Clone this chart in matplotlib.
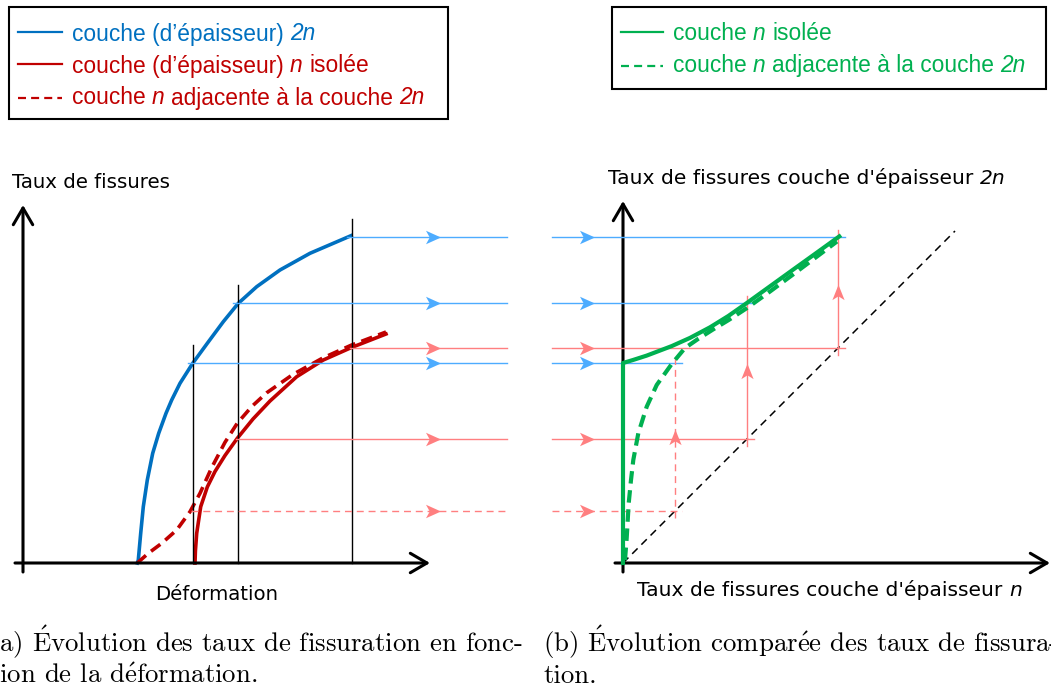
import matplotlib.pyplot as plt
from matplotlib.patches import Rectangle
from matplotlib.path import Path

plt.rcParams['mathtext.fontset'] = 'cm'

# --- schematic values (arbitrary units) ---
# (a) crack density against strain
eps_2n = [1.143, 1.153, 1.177, 1.203, 1.243, 1.297, 1.357, 1.430, 1.487, 1.570,
          1.697, 1.843, 2.003, 2.153, 2.337, 2.570, 2.870, 3.280]
rho_2n = [0.000, 0.030, 0.297, 0.563, 0.830, 1.097, 1.297, 1.497, 1.630, 1.797,
          1.997, 2.197, 2.413, 2.597, 2.763, 2.930, 3.097, 3.273]
eps_n = [1.720, 1.724, 1.737, 1.777, 1.843, 1.920, 2.020, 2.143, 2.300, 2.470,
         2.737, 3.003, 3.280, 3.630]
rho_n = [0.000, 0.120, 0.297, 0.563, 0.760, 0.915, 1.075, 1.247, 1.440, 1.620,
         1.863, 2.030, 2.153, 2.290]
eps_adj = [1.143, 1.253, 1.387, 1.537, 1.670, 1.770, 1.887, 2.020, 2.143, 2.290,
           2.437, 2.700, 3.000, 3.280, 3.630]
rho_adj = [0.000, 0.097, 0.197, 0.330, 0.513, 0.697, 0.954, 1.207, 1.398, 1.567,
           1.702, 1.886, 2.051, 2.177, 2.310]

# strain levels used for the construction and the densities read there
eps_levels = [1.70, 2.15, 3.29]
rho_2n_levels = [2.00, 2.60, 3.26]
rho_n_levels = [0.52, 1.24, 2.15]      # first one read on the adjacent curve
rho_n_dashed = [True, False, False]

# (b) crack density of the 2n layer against the n layer
n_iso = [0.000, 0.000, 0.100, 0.237, 0.487, 0.670, 0.870, 1.053, 1.230, 1.470,
         1.703, 1.937, 2.163]
r2n_iso = [0.000, 2.000, 2.030, 2.074, 2.169, 2.251, 2.357, 2.470, 2.594, 2.767,
           2.935, 3.103, 3.266]
n_adj = [0.020, 0.037, 0.057, 0.080, 0.103, 0.153, 0.237, 0.337, 0.487, 0.620,
         0.750, 0.900, 1.060, 1.240, 1.470, 1.700, 1.920, 2.140]
r2n_adj = [0.030, 0.250, 0.597, 0.830, 1.030, 1.297, 1.563, 1.780, 1.990, 2.150,
           2.240, 2.335, 2.432, 2.550, 2.715, 2.885, 3.050, 3.215]
diag = [0.0, 3.32]

BLUE = '#0070C0'
RED = '#C00000'
GREEN = '#00B050'
BLUE_LT = '#4DACFF'
RED_LT = '#FF7F80'

W, H = 1051, 692
fig = plt.figure(figsize=(W / 100, H / 100), dpi=100)

# 1 unit = 100 px, both panels share the same vertical scale
ax_a = fig.add_axes([0, 0, 540 / W, 1])
ax_a.set_xlim(-0.23, 5.17)
ax_b = fig.add_axes([540 / W, 0, 511 / W, 1])
ax_b.set_xlim(-0.83, 4.28)
for ax in (ax_a, ax_b):
    ax.set_ylim(-1.29, 5.63)
    ax.axis('off')
ov = fig.add_axes([0, 0, 1, 1])
ov.set_xlim(0, W)
ov.set_ylim(H, 0)
ov.axis('off')

# arrow head with a notched back, used along the guide lines
head_right = Path([(1, 0), (-1, 0.9), (-0.5, 0), (-1, -0.9), (1, 0)],
                  [Path.MOVETO, Path.LINETO, Path.LINETO, Path.LINETO, Path.CLOSEPOLY])
head_up = Path([(0, 1), (0.8, -1), (0, -0.5), (-0.8, -1), (0, 1)],
               [Path.MOVETO, Path.LINETO, Path.LINETO, Path.LINETO, Path.CLOSEPOLY])


def axis_arrow(ax, start, end):
    ax.annotate('', xy=end, xytext=start,
                arrowprops=dict(arrowstyle='->,head_length=12,head_width=7',
                                mutation_scale=1, lw=2.2, color='black',
                                shrinkA=0, shrinkB=0))


def guide(ax, x0, x1, y, color, dashed, head_x):
    ls = (0, (5, 3.5)) if dashed else '-'
    ax.plot([x0, x1], [y, y], color=color, lw=1.0, ls=ls, zorder=3)
    ax.plot([head_x], [y], marker=head_right, ms=10.8, color=color,
            mec='none', zorder=3)


# ---------- panel (a) ----------
axis_arrow(ax_a, (0, -0.09), (0, 3.58))
axis_arrow(ax_a, (-0.08, 0), (4.07, 0))

ax_a.plot(eps_2n, rho_2n, color=BLUE, lw=2.6, zorder=2)
ax_a.plot(eps_n, rho_n, color=RED, lw=2.6, zorder=2)
ax_a.plot(eps_adj, rho_adj, color=RED, lw=2.6, ls=(0, (3.2, 1.8)), zorder=2)

for e, r in zip(eps_levels, rho_2n_levels):
    ax_a.plot([e, e], [0, r + 0.18], color='black', lw=1.0, zorder=3)

for e, r in zip(eps_levels, rho_2n_levels):
    guide(ax_a, e - 0.05, 4.84, r, BLUE_LT, False, 4.095)
for e, r, d in zip(eps_levels, rho_n_levels, rho_n_dashed):
    guide(ax_a, e - 0.02, 4.84, r, RED_LT, d, 4.095)

# ---------- panel (b) ----------
axis_arrow(ax_b, (0, -0.09), (0, 3.62))
axis_arrow(ax_b, (-0.08, 0), (4.27, 0))

ax_b.plot(diag, diag, color='black', lw=1.1, ls=(0, (5, 3.5)), zorder=2)

for n, r in zip(rho_n_levels, rho_2n_levels):
    guide(ax_b, -0.71, n + 0.07, r, BLUE_LT, False, -0.365)
for n, d in zip(rho_n_levels, rho_n_dashed):
    guide(ax_b, -0.71, n + 0.07, n, RED_LT, d, -0.365)
for n, r, d in zip(rho_n_levels, rho_2n_levels, rho_n_dashed):
    ls = (0, (5, 3.5)) if d else '-'
    ax_b.plot([n, n], [n - 0.07, r + 0.07], color=RED_LT, lw=1.0, ls=ls, zorder=3)
    ax_b.plot([n], [(n + r) / 2], marker=head_up, ms=11, color=RED_LT,
              mec='none', zorder=3)

ax_b.plot(n_iso, r2n_iso, color=GREEN, lw=3.0, zorder=4)
ax_b.plot(n_adj, r2n_adj, color=GREEN, lw=3.0, ls=(0, (3.0, 1.6)), zorder=4)


# ---------- texts ----------
def rich(x, y, parts, size, family, color, gap):
    """Words in mixed upright / italic, chained one after the other."""
    text, it = parts[0]
    prev = ov.text(x, y, text, fontsize=size, family=family, color=color,
                   style='italic' if it else 'normal', ha='left', va='baseline')
    for text, it in parts[1:]:
        prev = ov.annotate(text, xy=(1, 0), xycoords=prev,
                           xytext=(gap * size, 0), textcoords='offset points',
                           fontsize=size, family=family, color=color,
                           style='italic' if it else 'normal',
                           ha='left', va='bottom')


SANS = 'DejaVu Sans'
ov.text(12, 188, 'Taux de fissures', fontsize=14.2, family=SANS, va='baseline')
ov.text(155, 600, 'Déformation', fontsize=14.2, family=SANS, va='baseline')
rich(608, 184, [("Taux de fissures couche d'épaisseur", False), ('2n', True)],
     14.6, SANS, 'black', 0.318)
rich(637, 596, [("Taux de fissures couche d'épaisseur", False), ('n', True)],
     14.6, SANS, 'black', 0.318)

LEG = 'Liberation Sans'
ov.add_patch(Rectangle((9.3, 7.3), 439, 112, fill=False, lw=1.5, ec='black'))
ov.plot([18, 62], [32.3, 32.3], color=BLUE, lw=1.6)
ov.plot([18, 62], [64.3, 64.3], color=RED, lw=1.6)
ov.plot([18, 62], [97.7, 97.7], color=RED, lw=1.6, ls=(0, (3.6, 2.3)))
rich(72, 40.5, [('couche (d’épaisseur)', False), ('2n', True)], 16.4, LEG, BLUE, 0.278)
rich(72, 72.5, [('couche (d’épaisseur)', False), ('n', True), ('isolée', False)],
     16.4, LEG, RED, 0.278)
rich(72, 104.5, [('couche', False), ('n', True), ('adjacente à la couche', False),
                 ('2n', True)], 16.4, LEG, RED, 0.278)

ov.add_patch(Rectangle((611.7, 7.3), 434.3, 82, fill=False, lw=1.5, ec='black'))
ov.plot([621, 663], [32.3, 32.3], color=GREEN, lw=1.6)
ov.plot([621, 663], [66, 66], color=GREEN, lw=1.6, ls=(0, (3.6, 2.3)))
rich(673, 39.5, [('couche', False), ('n', True), ('isolée', False)], 16.4, LEG, GREEN, 0.278)
rich(673, 72, [('couche', False), ('n', True), ('adjacente à la couche', False),
               ('2n', True)], 16.4, LEG, GREEN, 0.278)

# sub-figure captions, Computer Modern with accents set through mathtext
SERIF = 'cmr10'
E_ACUTE = r'$\acute{\mathrm{E}}$'
e_acute = r'$\acute{\mathrm{e}}$'
ov.text(-11, 652, '(a) ' + E_ACUTE + 'volution des taux de fissuration en fonc-',
        fontsize=19.3, family=SERIF, va='baseline')
ov.text(-11, 683, 'tion de la d' + e_acute + 'formation.', fontsize=19.3,
        family=SERIF, va='baseline')
ov.text(543, 652, '(b) ' + E_ACUTE + 'volution compar' + e_acute
        + 'e des taux de fissura-', fontsize=19.3, family=SERIF, va='baseline')
ov.text(543, 683, 'tion.', fontsize=19.3, family=SERIF, va='baseline')

fig.savefig('out.png', dpi=100)
